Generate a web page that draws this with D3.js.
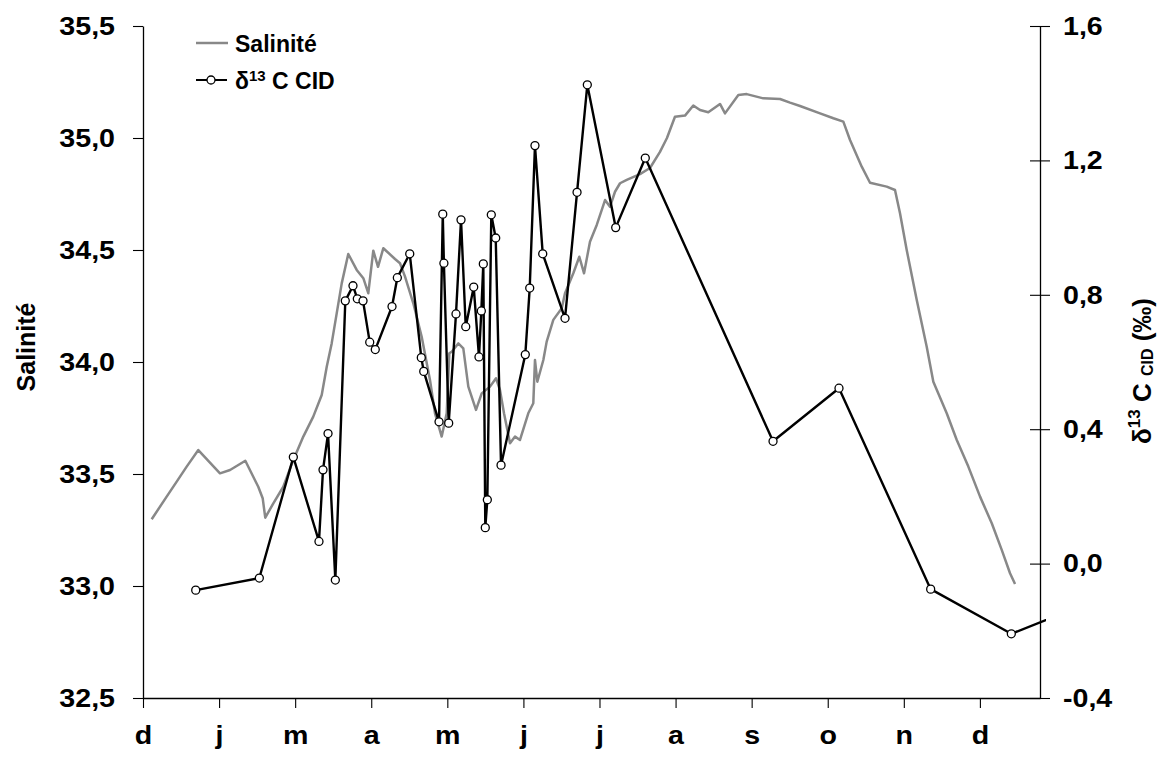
<!DOCTYPE html>
<html>
<head>
<meta charset="utf-8">
<script src="https://cdn.jsdelivr.net/npm/d3@7"></script>
<style>
  html, body { margin: 0; padding: 0; background: #fff; }
  svg text { font-family: "Liberation Sans", Arial, Helvetica, sans-serif; font-weight: bold; fill: #000; }
</style>
</head>
<body>
<svg id="chart" width="1159" height="761"></svg>
<script>
// ---- Data (x in months since 1 Dec) ----
const monthLabels = ["d","j","m","a","m","j","j","a","s","o","n","d"];
const salTicks = [32.5, 33.0, 33.5, 34.0, 34.5, 35.0, 35.5];
const d13Ticks = [-0.4, 0.0, 0.4, 0.8, 1.2, 1.6];

const salMonth = [0.114,0.311,0.443,0.574,0.727,1.012,1.144,1.345,1.515,1.573,1.607,1.713,1.844,1.976,2.107,2.238,2.349,2.415,2.480,2.546,2.612,2.698,2.809,2.896,2.961,3.027,3.089,3.159,3.312,3.378,3.444,3.553,3.663,3.772,3.838,3.926,3.992,4.026,4.058,4.144,4.210,4.276,4.377,4.452,4.561,4.640,4.692,4.745,4.824,4.890,4.955,5.064,5.130,5.152,5.183,5.262,5.306,5.393,5.504,5.547,5.656,5.735,5.797,5.875,5.964,6.073,6.138,6.204,6.270,6.358,6.532,6.664,6.795,6.887,6.992,7.124,7.233,7.321,7.430,7.584,7.650,7.825,7.935,8.153,8.373,8.504,8.636,8.899,9.074,9.205,9.293,9.447,9.556,9.775,9.884,9.950,10.038,10.170,10.301,10.388,10.564,10.696,10.848,11.002,11.156,11.287,11.396,11.462];
const salValue = [33.298,33.399,33.466,33.533,33.607,33.503,33.518,33.559,33.443,33.392,33.305,33.369,33.443,33.563,33.667,33.756,33.853,33.979,34.083,34.217,34.351,34.482,34.411,34.374,34.307,34.497,34.425,34.508,34.460,34.441,34.381,34.262,34.113,33.920,33.771,33.667,33.771,34.039,34.046,34.083,34.061,33.890,33.786,33.860,33.890,33.927,33.875,33.771,33.637,33.667,33.652,33.771,33.816,34.009,33.912,34.009,34.091,34.188,34.240,34.307,34.396,34.470,34.396,34.537,34.612,34.723,34.693,34.760,34.798,34.813,34.839,34.866,34.938,35.000,35.095,35.100,35.145,35.125,35.115,35.152,35.110,35.192,35.196,35.177,35.174,35.158,35.143,35.110,35.088,35.073,34.991,34.872,34.800,34.783,34.768,34.664,34.500,34.277,34.068,33.912,33.771,33.652,33.533,33.399,33.280,33.161,33.057,33.009];

const d13Month = [0.693,1.529,1.976,2.313,2.366,2.432,2.528,2.659,2.760,2.817,2.892,2.980,3.053,3.273,3.343,3.506,3.658,3.690,3.891,3.940,3.955,4.018,4.114,4.180,4.242,4.347,4.416,4.447,4.473,4.499,4.526,4.578,4.636,4.706,5.025,5.083,5.152,5.254,5.547,5.705,5.840,6.213,6.602,8.281,9.148,10.353,11.413,12.300];
const d13Value = [-0.079,-0.043,0.317,0.066,0.279,0.387,-0.049,0.782,0.827,0.788,0.782,0.659,0.637,0.765,0.851,0.922,0.613,0.572,0.422,1.040,0.894,0.418,0.743,1.023,0.705,0.823,0.615,0.752,0.892,0.107,0.190,1.038,0.969,0.293,0.622,0.820,1.244,0.922,0.730,1.105,1.425,1.000,1.207,0.364,0.522,-0.076,-0.209,-0.129];

// ---- Layout ----
const L = 143, R = 1040, T = 26, B = 698;
const svg = d3.select("#chart");

const x = d3.scaleLinear().domain([0, 11.79]).range([L, R]);
const ySal = d3.scaleLinear().domain([32.5, 35.5]).range([B, T]);
const yD = d3.scaleLinear().domain([-0.4, 1.6]).range([B, T]);
const fmt = d => d3.format(".1f")(d).replace(".", ",").replace("\u2212", "-");

svg.append("defs").append("clipPath").attr("id", "plotclip")
  .append("rect").attr("x", L).attr("y", 0).attr("width", 1046 - L).attr("height", B + 1);

// ---- Salinity line ----
const salData = salMonth.map((m, i) => ({m, v: salValue[i]}));
svg.append("path")
  .datum(salData)
  .attr("clip-path", "url(#plotclip)")
  .attr("fill", "none")
  .attr("stroke", "#888888")
  .attr("stroke-width", 2.5)
  .attr("stroke-linejoin", "round")
  .attr("d", d3.line().x(d => x(d.m)).y(d => ySal(d.v)));

// ---- d13C line ----
const dData = d13Month.map((m, i) => ({m, v: d13Value[i]}));
const dg = svg.append("g").attr("clip-path", "url(#plotclip)");
dg.append("path")
  .datum(dData)
  .attr("fill", "none")
  .attr("stroke", "#000")
  .attr("stroke-width", 2.4)
  .attr("stroke-linejoin", "round")
  .attr("d", d3.line().x(d => x(d.m)).y(d => yD(d.v)));
dg.selectAll("circle")
  .data(dData.filter(d => d.m <= 11.79))
  .join("circle")
  .attr("cx", d => x(d.m))
  .attr("cy", d => yD(d.v))
  .attr("r", 4)
  .attr("fill", "#fff")
  .attr("stroke", "#000")
  .attr("stroke-width", 1.3);

// ---- Axes ----
const axL = svg.append("g").attr("transform", `translate(${L},0)`)
  .call(d3.axisLeft(ySal).tickValues(salTicks).tickFormat(fmt).tickSize(10).tickSizeOuter(0).tickPadding(18));
const axR = svg.append("g").attr("transform", `translate(${R},0)`)
  .call(d3.axisRight(yD).tickValues(d13Ticks).tickFormat(fmt).tickSize(10).tickSizeOuter(0).tickPadding(13));
axR.selectAll(".tick line").attr("x1", -10);
const axB = svg.append("g").attr("transform", `translate(0,${B})`)
  .call(d3.axisBottom(x).tickValues(d3.range(12)).tickFormat(i => monthLabels[i]).tickSize(10).tickSizeOuter(0).tickPadding(18));

const SX = 1.1;
[axL, axR, axB].forEach(a => {
  a.selectAll("path.domain").attr("stroke", "#000").attr("stroke-width", 1.3);
  a.selectAll(".tick line").attr("stroke", "#000").attr("stroke-width", 1.1);
  a.selectAll("text").attr("font-size", 26).attr("font-weight", "bold")
    .attr("font-family", "'Liberation Sans', Arial, sans-serif").attr("fill", "#000");
});
// slight horizontal stretch of tick labels, as in the reference
[axL, axR, axB].forEach(a => {
  a.selectAll(".tick text").each(function () {
    const t = d3.select(this);
    const tx = +t.attr("x") || 0;
    t.attr("x", 0).attr("transform", `translate(${tx},0) scale(${SX},1)`);
  });
});

// ---- Axis titles ----
svg.append("text")
  .attr("transform", "translate(35,347) rotate(-90)")
  .attr("text-anchor", "middle")
  .attr("font-size", 25)
  .text("Salinité");

const rt = svg.append("text")
  .attr("transform", "translate(1151,371) rotate(-90)")
  .attr("text-anchor", "middle")
  .attr("font-size", 26);
rt.append("tspan").text("δ");
rt.append("tspan").attr("font-size", 17).attr("dy", -11).text("13");
rt.append("tspan").attr("dy", 11).text(" C ");
rt.append("tspan").attr("font-size", 16).attr("dy", 2).text("CID");
rt.append("tspan").attr("dy", -2).text(" (‰)");

// ---- Legend ----
const lg = svg.append("g");
lg.append("line").attr("x1", 196).attr("x2", 228).attr("y1", 43).attr("y2", 43)
  .attr("stroke", "#888888").attr("stroke-width", 2.5);
lg.append("text").attr("x", 235).attr("y", 52).attr("font-size", 23).text("Salinité");
lg.append("line").attr("x1", 196).attr("x2", 227).attr("y1", 80).attr("y2", 80)
  .attr("stroke", "#000").attr("stroke-width", 2);
lg.append("circle").attr("cx", 211).attr("cy", 80).attr("r", 4)
  .attr("fill", "#fff").attr("stroke", "#000").attr("stroke-width", 1.3);
const lt = lg.append("text").attr("x", 235).attr("y", 89).attr("font-size", 23);
lt.append("tspan").text("δ");
lt.append("tspan").attr("font-size", 15).attr("dy", -8).text("13");
lt.append("tspan").attr("dy", 8).text(" C CID");
</script>
</body>
</html>
